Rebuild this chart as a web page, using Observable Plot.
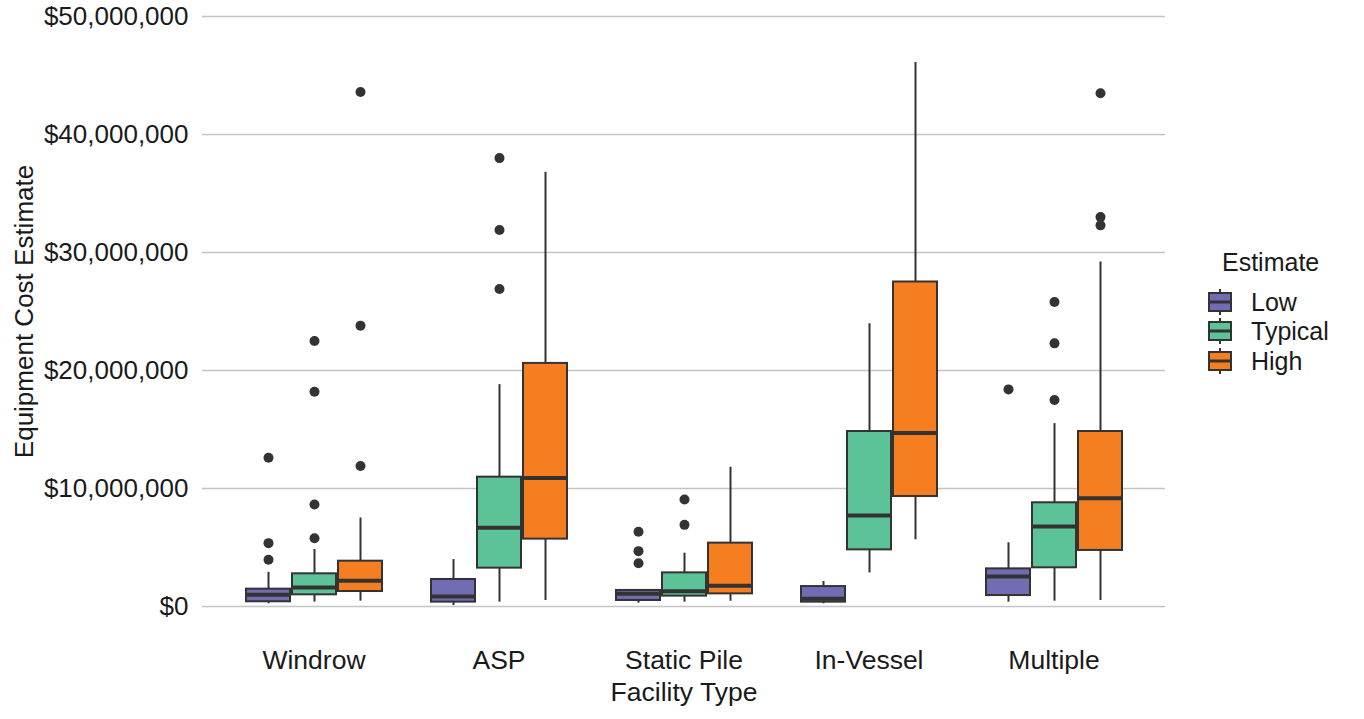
<!DOCTYPE html>
<html>
<head>
<meta charset="utf-8">
<script src="https://cdn.jsdelivr.net/npm/d3@7"></script>
<script src="https://cdn.jsdelivr.net/npm/@observablehq/plot@0.6"></script>
<style>
  html, body { margin: 0; padding: 0; background: #fff; }
  #wrap { position: relative; width: 1364px; height: 719px; font-family: "Liberation Sans", Arial, sans-serif; color: #1a1a1a; }
  .layer { position: absolute; left: 0; top: 0; }
  .legend-title { position: absolute; left: 1222px; top: 247px; font-size: 25px; line-height: 30px; }
  .legend-row { position: absolute; left: 1207px; height: 30px; display: flex; align-items: center; font-size: 25px; }
  .legend-row svg { margin-right: 18px; }
</style>
</head>
<body>
<div id="wrap">
  <div id="grid" class="layer"></div>
  <div id="chart" class="layer"></div>
  <div id="legend"></div>
</div>
<script>
// ---- data (values in millions of dollars) ----
const facilities = ["Windrow", "ASP", "Static Pile", "In-Vessel", "Multiple"];
const estimates = ["Low", "Typical", "High"];
const colors = ["#716cb4", "#5cc398", "#f47e20"];
const yTicks = [0, 10e6, 20e6, 30e6, 40e6, 50e6];

// order: for each facility -> Low, Typical, High
const whiskerLow  = [0.23, 0.37, 0.45,   0.08, 0.37, 0.50,   0.28, 0.37, 0.45,   0.23, 2.85, 5.65,   0.37, 0.45, 0.50];
const q1          = [0.40, 0.99, 1.27,   0.37, 3.25, 5.71,   0.51, 0.88, 1.07,   0.37, 4.80, 9.32,   0.93, 3.28, 4.75];
const median      = [0.99, 1.61, 2.18,   0.85, 6.67, 10.90,  1.07, 1.30, 1.75,   0.65, 7.71, 14.70,  2.54, 6.78, 9.18];
const q3          = [1.47, 2.77, 3.84,   2.29, 10.96, 20.60, 1.36, 2.85, 5.37,   1.69, 14.83, 27.50, 3.19, 8.79, 14.83];
const whiskerHigh = [2.90, 4.83, 7.50,   3.98, 18.80, 36.80, 1.36, 4.52, 11.80,  2.12, 23.96, 46.10, 5.40, 15.50, 29.20];
const outliers = [
  [3.96, 5.37, 12.6], [5.79, 8.64, 18.2, 22.5], [11.9, 23.8, 43.6],
  [], [26.9, 31.9, 38.0], [],
  [3.67, 4.69, 6.33], [6.92, 9.07], [],
  [], [], [],
  [18.4], [17.5, 22.3, 25.8], [32.3, 33.0, 43.5]
];

// ---- build tables ----
const boxes = [];
const points = [];
facilities.forEach((f, i) => estimates.forEach((e, j) => {
  const k = i * 3 + j;
  boxes.push({facility: f, estimate: e,
    lo: whiskerLow[k] * 1e6, q1: q1[k] * 1e6, med: median[k] * 1e6,
    q3: q3[k] * 1e6, hi: whiskerHigh[k] * 1e6});
  outliers[k].forEach(v => points.push({facility: f, estimate: e, value: v * 1e6}));
}));

const fmt = d => "$" + d3.format(",")(d);
const ink = "#333333";
const textColor = "#1a1a1a";
const font = "'Liberation Sans', Arial, sans-serif";
const frame = {width: 1364, height: 719, marginLeft: 202, marginRight: 199, marginTop: 16, marginBottom: 113};

// background layer: gridlines, y axis and axis titles (no facets)
const grid = Plot.plot({
  ...frame,
  style: {fontFamily: font, background: "white", color: textColor},
  y: {domain: [0, 50e6], label: null},
  marks: [
    Plot.ruleY(yTicks, {stroke: "#c4c4c4", strokeWidth: 1.6}),
    Plot.axisY({ticks: yTicks, tickFormat: fmt, tickSize: 0, tickPadding: 14, fontSize: 26, label: null, fill: textColor}),
    Plot.text(["Equipment Cost Estimate"], {frameAnchor: "left", textAnchor: "middle", lineAnchor: "middle", rotate: -90, dx: -178, fontSize: 26, fill: textColor}),
    Plot.text(["Facility Type"], {frameAnchor: "bottom", textAnchor: "middle", lineAnchor: "middle", dy: 86, fontSize: 26.5, fill: textColor})
  ]
});
document.getElementById("grid").appendChild(grid);

// foreground layer: boxplots, faceted by facility type
const chart = Plot.plot({
  ...frame,
  style: {fontFamily: font, background: "transparent", color: textColor},
  fx: {domain: facilities, paddingInner: 0, paddingOuter: 0.1, label: null},
  x: {domain: estimates, paddingInner: 0, paddingOuter: 0.5, axis: null},
  y: {domain: [0, 50e6], label: null, axis: null},
  color: {domain: estimates, range: colors},
  marks: [
    Plot.axisFx({anchor: "bottom", tickSize: 0, tickPadding: 44, fontSize: 26.5, label: null, fill: textColor}),
    Plot.ruleX(boxes, {fx: "facility", x: "estimate", y1: "lo", y2: "hi", stroke: ink, strokeWidth: 2}),
    Plot.barY(boxes, {fx: "facility", x: "estimate", y1: "q1", y2: "q3", fill: "estimate", stroke: ink, strokeWidth: 2, insetLeft: 1, insetRight: 1}),
    Plot.tickY(boxes, {fx: "facility", x: "estimate", y: "med", stroke: ink, strokeWidth: 4, insetLeft: 1, insetRight: 1}),
    Plot.dot(points, {fx: "facility", x: "estimate", y: "value", r: 5, fill: ink, stroke: "none"})
  ]
});
document.getElementById("chart").appendChild(chart);

// ---- legend ----
const legend = document.getElementById("legend");
const t = document.createElement("div");
t.className = "legend-title";
t.textContent = "Estimate";
legend.appendChild(t);
const centers = [302, 331, 361];
estimates.forEach((e, i) => {
  const row = document.createElement("div");
  row.className = "legend-row";
  row.style.top = (centers[i] - 15) + "px";
  row.innerHTML = `<svg width="26" height="28" viewBox="0 0 26 28">
      <line x1="13" x2="13" y1="1" y2="27" stroke="${ink}" stroke-width="2"/>
      <rect x="2" y="5" width="22" height="18" fill="${colors[i]}" stroke="${ink}" stroke-width="2"/>
      <line x1="2" x2="24" y1="14" y2="14" stroke="${ink}" stroke-width="3"/>
    </svg><span>${e}</span>`;
  legend.appendChild(row);
});
</script>
</body>
</html>
